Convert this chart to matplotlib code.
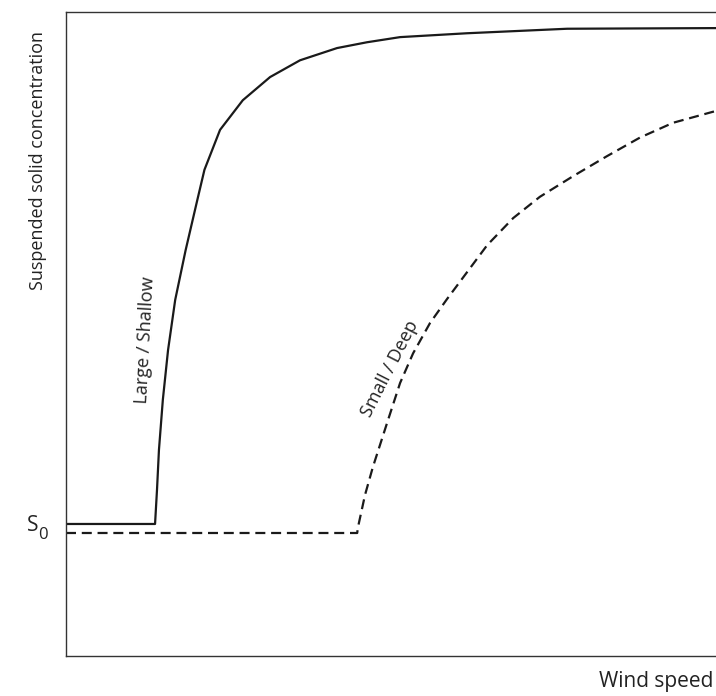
import matplotlib.pyplot as plt

plt.rcParams['font.family'] = ['Open Sans', 'DejaVu Sans']

# arbitrary units: wind speed 0-100, concentration 0-100
large_x = [0, 13.7, 14.0, 14.3, 14.9, 15.7, 16.8, 18.4, 20.2, 21.3,
           23.7, 27.2, 31.4, 36.0, 41.7, 46.3, 51.4, 61.7, 77.1, 100]
large_y = [20.5, 20.5, 25.8, 32.0, 39.8, 47.5, 55.3, 63.0, 70.8, 75.5,
           81.7, 86.3, 89.9, 92.5, 94.4, 95.3, 96.1, 96.7, 97.4, 97.5]

small_x = [0, 44.8, 44.9, 46.0, 47.2, 49.4, 51.4, 53.4, 56.0, 58.6, 61.7,
           64.8, 68.8, 72.9, 78.0, 83.2, 88.3, 93.4, 99.5, 100]
small_y = [19.1, 19.1, 19.9, 25.0, 29.3, 36.2, 42.4, 47.0, 51.7, 55.4, 59.6,
           63.8, 68.0, 71.3, 74.5, 77.6, 80.5, 82.8, 84.5, 84.6]

s0 = 19.8

fig = plt.figure(figsize=(7.16, 6.96), dpi=100)
ax = fig.add_axes([66 / 716, 40 / 696, 1 - 66 / 716, 644 / 696])

ax.plot(large_x, large_y, color='#1a1a1a', lw=1.6)
ax.plot(small_x, small_y, color='#1a1a1a', lw=1.6, linestyle=(0, (4.5, 2.6)))

ax.set_xlim(0, 100)
ax.set_ylim(0, 100)
ax.set_xticks([])
ax.set_yticks([])
ax.spines['right'].set_visible(False)
for s in ['left', 'bottom', 'top']:
    ax.spines[s].set_color('#333333')
    ax.spines[s].set_linewidth(1.0)

ax.text(-4.2, s0 + 0.4, 'S', fontsize=15, color='#222222', ha='right',
        va='center')
ax.text(-4.3, s0 - 1.0, '0', fontsize=12, color='#222222', ha='left',
        va='center')
ax.text(12.2, 49.0, 'Large / Shallow', fontsize=13, color='#222222',
        rotation=87, ha='center', va='center')
ax.text(49.8, 44.6, 'Small / Deep', fontsize=13, color='#222222',
        rotation=63, ha='center', va='center')

fig.text(38 / 716, 1 - 160 / 696, 'Suspended solid concentration', fontsize=13,
         color='#222222', rotation=90, ha='center', va='center')
fig.text(713 / 716, 1 - 681 / 696, 'Wind speed', fontsize=15, color='#222222',
         ha='right', va='center')

fig.savefig('out.png', dpi=100)
